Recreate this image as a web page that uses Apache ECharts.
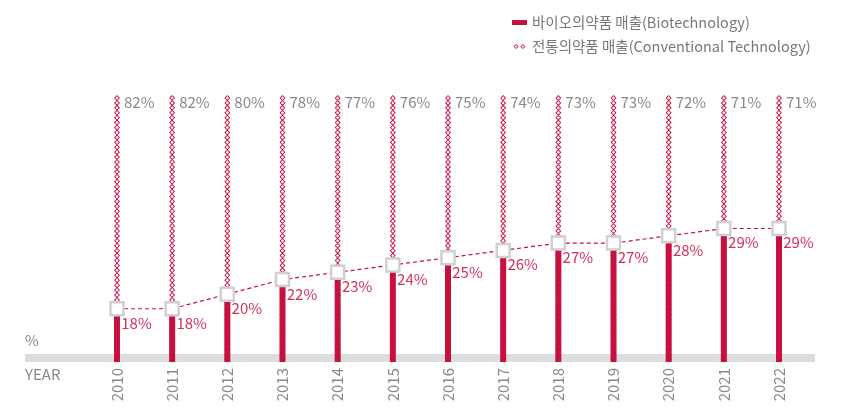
<!DOCTYPE html>
<html>
<head>
<meta charset="utf-8">
<script src="https://cdn.jsdelivr.net/npm/echarts@6/dist/echarts.min.js"></script>
<style>
    html, body { margin: 0; padding: 0; background: #fff; }
    #chart { width: 856px; height: 408px; }
</style>
</head>
<body>
<div id="chart"></div>
<script>
// 연도별 바이오 / 전통 의약품 매출 비중
var years = ['2010', '2011', '2012', '2013', '2014', '2015', '2016', '2017', '2018', '2019', '2020', '2021', '2022'];
var bioShare = [18, 18, 20, 22, 23, 24, 25, 26, 27, 27, 28, 29, 29];
var convShare = [82, 82, 80, 78, 77, 76, 75, 74, 73, 73, 72, 71, 71];

var bioName = '바이오의약품 매출(Biotechnology)';
var convName = '전통의약품 매출(Conventional Technology)';

var red = '#c8103f';
var font = "'Noto Sans CJK KR', 'Noto Sans', sans-serif";

// 속이 빈 마름모 (바깥 - 안쪽)
var ringDiamond = 'path://M3,0 L6,3 L3,6 L0,3 Z M3,1.3 L1.3,3 L3,4.7 L4.7,3 Z';

// 전체(바이오+전통) = 100
var totalShare = bioShare.map(function (v, i) { return v + convShare[i]; });

var my_chart = echarts.init(document.getElementById('chart'));
var option = {
    animation: false,
    textStyle: { fontFamily: font },
    grid: { left: 89.4, right: 49.4, top: 95, bottom: 46 },
    legend: {
        orient: 'vertical',
        left: 507,
        top: 9,
        itemGap: 7,
        itemWidth: 15,
        itemHeight: 5,
        textStyle: { color: '#777', fontSize: 14.5, lineHeight: 17, fontFamily: font },
        data: [
            { name: bioName, icon: 'rect', itemStyle: { color: red } },
            {
                name: convName,
                icon: 'path://M3,0 L6,3 L3,6 L0,3 Z M3,1.3 L1.3,3 L3,4.7 L4.7,3 Z M11,0 L14,3 L11,6 L8,3 Z M11,1.3 L9.3,3 L11,4.7 L12.7,3 Z',
                itemStyle: { color: red }
            }
        ]
    },
    xAxis: {
        type: 'category',
        data: years,
        axisLine: { show: false },
        axisTick: { show: false },
        axisLabel: { rotate: 90, margin: 6, color: '#888', fontSize: 15, fontFamily: font }
    },
    yAxis: [
        // 바이오 비중 (그림처럼 늘려서 표시)
        { type: 'value', min: 10.7, max: 47.3, show: false, splitLine: { show: false } },
        // 전체 100%
        { type: 'value', min: 0, max: 100, show: false, splitLine: { show: false } }
    ],
    graphic: [
        { type: 'rect', z: -1, shape: { x: 25, y: 354, width: 790, height: 8 }, style: { fill: '#dcdddf' } },
        { type: 'text', left: 25, top: 333, style: { text: '%', fill: '#888', font: '15px ' + font } },
        { type: 'text', left: 25, top: 367, style: { text: 'YEAR', fill: '#888', font: '15px ' + font } }
    ],
    series: [
        {
            name: convName,
            type: 'pictorialBar',
            yAxisIndex: 1,
            barWidth: 6,
            barGap: '-100%',
            symbol: ringDiamond,
            symbolRepeat: true,
            symbolSize: [6, 6],
            symbolMargin: -0.5,
            symbolPosition: 'end',
            itemStyle: { color: red },
            label: {
                show: true,
                position: [10, 7],
                verticalAlign: 'middle',
                color: '#888',
                fontSize: 15,
                formatter: function (p) { return convShare[p.dataIndex] + '%'; }
            },
            z: 2,
            data: totalShare
        },
        {
            name: bioName,
            type: 'bar',
            yAxisIndex: 0,
            barWidth: 6,
            barGap: '-100%',
            itemStyle: { color: red },
            z: 3,
            data: bioShare
        },
        {
            name: 'bioLine',
            type: 'line',
            yAxisIndex: 0,
            symbol: 'rect',
            symbolSize: 13,
            showAllSymbol: true,
            lineStyle: { color: red, width: 1.2, type: [4, 3] },
            itemStyle: { color: '#fff', borderColor: '#d0d0d0', borderWidth: 2.5 },
            label: {
                show: true,
                position: [12, 22],
                verticalAlign: 'middle',
                color: '#d0325a',
                fontSize: 15,
                formatter: '{c}%'
            },
            z: 4,
            data: bioShare
        }
    ]
};
my_chart.setOption(option);
</script>
</body>
</html>
